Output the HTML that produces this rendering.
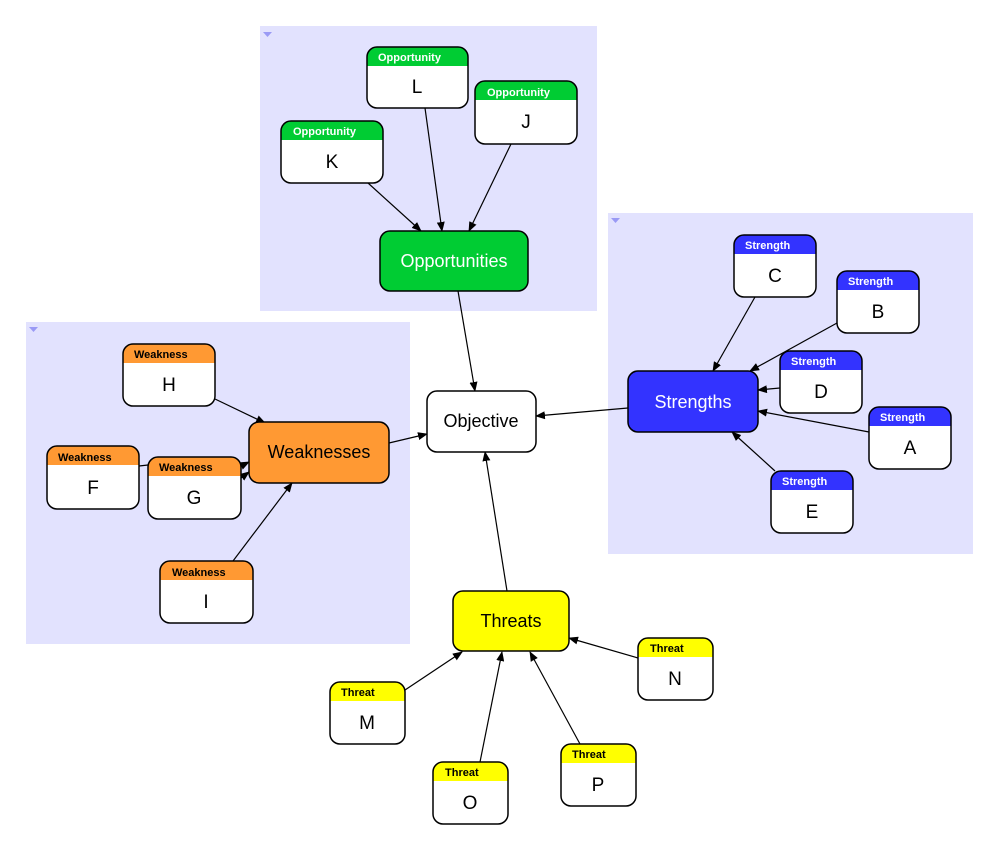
<!DOCTYPE html>
<html><head><meta charset="utf-8"><style>
body{margin:0;background:#fff;}
svg{display:block;font-family:"Liberation Sans",Arial,sans-serif;}
.h{font-size:11px;font-weight:bold;}
.w{fill:#fff}
.o{fill:none;stroke:#000;stroke-width:1.5}
.l{font-size:19px;text-anchor:middle}
</style></head><body>
<svg width="1000" height="856" viewBox="0 0 1000 856">
<defs>
<marker id="a" markerWidth="10" markerHeight="8" refX="9" refY="4" orient="auto" markerUnits="userSpaceOnUse">
<path d="M0,0 L10,4 L0,8 z" fill="#000"/></marker>
</defs>
<rect x="260" y="26" width="337" height="285" fill="#e2e2fe"/>
<rect x="608" y="213" width="365" height="341" fill="#e2e2fe"/>
<rect x="26" y="322" width="384" height="322" fill="#e2e2fe"/>
<path d="M263,32 h9 l-4.5,5 z" fill="#9a9af5"/>
<path d="M611,218 h9 l-4.5,5 z" fill="#9a9af5"/>
<path d="M29,327 h9 l-4.5,5 z" fill="#9a9af5"/>

<g stroke="#000" stroke-width="1.2" fill="none" marker-end="url(#a)">
<line x1="368" y1="183" x2="421" y2="231"/>
<line x1="425" y1="108" x2="442" y2="231"/>
<line x1="511" y1="144" x2="469" y2="231"/>
<line x1="458" y1="291" x2="475" y2="391"/>
<line x1="628" y1="408" x2="536" y2="416"/>
<line x1="389" y1="443" x2="427" y2="434"/>
<line x1="507" y1="591" x2="485" y2="452"/>
<line x1="755" y1="297" x2="713" y2="371"/>
<line x1="837" y1="323" x2="750" y2="371"/>
<line x1="780" y1="388" x2="758" y2="390"/>
<line x1="869" y1="432" x2="758" y2="411"/>
<line x1="775" y1="471" x2="732" y2="432"/>
<line x1="215" y1="399" x2="265" y2="423"/>
<line x1="241" y1="466" x2="249" y2="462"/>
<line x1="241" y1="478" x2="249" y2="472"/>
<line x1="233" y1="561" x2="292" y2="483"/>
<line x1="405" y1="690" x2="462" y2="652"/>
<line x1="480" y1="762" x2="502" y2="652"/>
<line x1="580" y1="744" x2="530" y2="652"/>
<line x1="638" y1="658" x2="569" y2="638"/>
</g>
<line x1="139" y1="466" x2="148" y2="465" stroke="#000" stroke-width="1.2"/>

<g stroke="#000" stroke-width="1.5">
<rect x="380" y="231" width="148" height="60" rx="10" fill="#00cc33"/>
<rect x="628" y="371" width="130" height="61" rx="10" fill="#3333ff"/>
<rect x="249" y="422" width="140" height="61" rx="10" fill="#ff9933"/>
<rect x="427" y="391" width="109" height="61" rx="10" fill="#fff"/>
<rect x="453" y="591" width="116" height="60" rx="10" fill="#ffff00"/>
</g>
<g font-size="18" text-anchor="middle">
<text x="454" y="267" fill="#fff">Opportunities</text>
<text x="693" y="408" fill="#fff">Strengths</text>
<text x="319" y="458">Weaknesses</text>
<text x="481" y="427">Objective</text>
<text x="511" y="627">Threats</text>
</g>

<!-- K -->
<g transform="translate(281,121)"><rect class="w" width="102" height="62" rx="10"/><path d="M0,19V10Q0,0 10,0H92Q102,0 102,10V19Z" fill="#00cc33"/><rect class="o" width="102" height="62" rx="10"/><text class="h" x="12" y="14" fill="#fff">Opportunity</text><text class="l" x="51" y="47">K</text></g>
<!-- L -->
<g transform="translate(367,47)"><rect class="w" width="101" height="61" rx="10"/><path d="M0,19V10Q0,0 10,0H91Q101,0 101,10V19Z" fill="#00cc33"/><rect class="o" width="101" height="61" rx="10"/><text class="h" x="11" y="14" fill="#fff">Opportunity</text><text class="l" x="50" y="46">L</text></g>
<!-- J -->
<g transform="translate(475,81)"><rect class="w" width="102" height="63" rx="10"/><path d="M0,19V10Q0,0 10,0H92Q102,0 102,10V19Z" fill="#00cc33"/><rect class="o" width="102" height="63" rx="10"/><text class="h" x="12" y="15" fill="#fff">Opportunity</text><text class="l" x="51" y="47">J</text></g>
<!-- C -->
<g transform="translate(734,235)"><rect class="w" width="82" height="62" rx="10"/><path d="M0,19V10Q0,0 10,0H72Q82,0 82,10V19Z" fill="#3333ff"/><rect class="o" width="82" height="62" rx="10"/><text class="h" x="11" y="14" fill="#fff">Strength</text><text class="l" x="41" y="47">C</text></g>
<!-- B -->
<g transform="translate(837,271)"><rect class="w" width="82" height="62" rx="10"/><path d="M0,19V10Q0,0 10,0H72Q82,0 82,10V19Z" fill="#3333ff"/><rect class="o" width="82" height="62" rx="10"/><text class="h" x="11" y="14" fill="#fff">Strength</text><text class="l" x="41" y="47">B</text></g>
<!-- D -->
<g transform="translate(780,351)"><rect class="w" width="82" height="62" rx="10"/><path d="M0,19V10Q0,0 10,0H72Q82,0 82,10V19Z" fill="#3333ff"/><rect class="o" width="82" height="62" rx="10"/><text class="h" x="11" y="14" fill="#fff">Strength</text><text class="l" x="41" y="47">D</text></g>
<!-- A -->
<g transform="translate(869,407)"><rect class="w" width="82" height="62" rx="10"/><path d="M0,19V10Q0,0 10,0H72Q82,0 82,10V19Z" fill="#3333ff"/><rect class="o" width="82" height="62" rx="10"/><text class="h" x="11" y="14" fill="#fff">Strength</text><text class="l" x="41" y="47">A</text></g>
<!-- E -->
<g transform="translate(771,471)"><rect class="w" width="82" height="62" rx="10"/><path d="M0,19V10Q0,0 10,0H72Q82,0 82,10V19Z" fill="#3333ff"/><rect class="o" width="82" height="62" rx="10"/><text class="h" x="11" y="14" fill="#fff">Strength</text><text class="l" x="41" y="47">E</text></g>
<!-- H -->
<g transform="translate(123,344)"><rect class="w" width="92" height="62" rx="10"/><path d="M0,19V10Q0,0 10,0H82Q92,0 92,10V19Z" fill="#ff9933"/><rect class="o" width="92" height="62" rx="10"/><text class="h" x="11" y="14">Weakness</text><text class="l" x="46" y="47">H</text></g>
<!-- F -->
<g transform="translate(47,446)"><rect class="w" width="92" height="63" rx="10"/><path d="M0,19V10Q0,0 10,0H82Q92,0 92,10V19Z" fill="#ff9933"/><rect class="o" width="92" height="63" rx="10"/><text class="h" x="11" y="15">Weakness</text><text class="l" x="46" y="48">F</text></g>
<!-- G -->
<g transform="translate(148,457)"><rect class="w" width="93" height="62" rx="10"/><path d="M0,19V10Q0,0 10,0H83Q93,0 93,10V19Z" fill="#ff9933"/><rect class="o" width="93" height="62" rx="10"/><text class="h" x="11" y="14">Weakness</text><text class="l" x="46" y="47">G</text></g>
<!-- I -->
<g transform="translate(160,561)"><rect class="w" width="93" height="62" rx="10"/><path d="M0,19V10Q0,0 10,0H83Q93,0 93,10V19Z" fill="#ff9933"/><rect class="o" width="93" height="62" rx="10"/><text class="h" x="12" y="15">Weakness</text><text class="l" x="46" y="47">I</text></g>
<!-- M -->
<g transform="translate(330,682)"><rect class="w" width="75" height="62" rx="10"/><path d="M0,19V10Q0,0 10,0H65Q75,0 75,10V19Z" fill="#ffff00"/><rect class="o" width="75" height="62" rx="10"/><text class="h" x="11" y="14">Threat</text><text class="l" x="37" y="47">M</text></g>
<!-- O -->
<g transform="translate(433,762)"><rect class="w" width="75" height="62" rx="10"/><path d="M0,19V10Q0,0 10,0H65Q75,0 75,10V19Z" fill="#ffff00"/><rect class="o" width="75" height="62" rx="10"/><text class="h" x="12" y="14">Threat</text><text class="l" x="37" y="47">O</text></g>
<!-- P -->
<g transform="translate(561,744)"><rect class="w" width="75" height="62" rx="10"/><path d="M0,19V10Q0,0 10,0H65Q75,0 75,10V19Z" fill="#ffff00"/><rect class="o" width="75" height="62" rx="10"/><text class="h" x="11" y="14">Threat</text><text class="l" x="37" y="47">P</text></g>
<!-- N -->
<g transform="translate(638,638)"><rect class="w" width="75" height="62" rx="10"/><path d="M0,19V10Q0,0 10,0H65Q75,0 75,10V19Z" fill="#ffff00"/><rect class="o" width="75" height="62" rx="10"/><text class="h" x="12" y="14">Threat</text><text class="l" x="37" y="47">N</text></g>
</svg>
</body></html>
